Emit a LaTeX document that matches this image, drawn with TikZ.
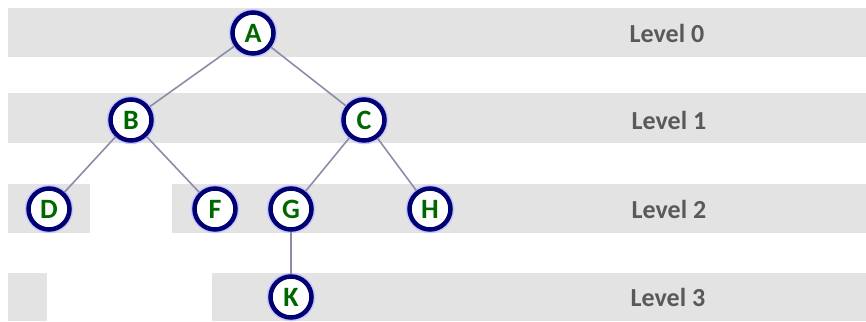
\documentclass[tikz,border=0pt]{standalone}
\usepackage{fontspec}
\setmainfont{Carlito}
\usepackage{tikz}
\usetikzlibrary{positioning}

\begin{document}
\begin{tikzpicture}[x=1pt,y=-1pt]
\colorlet{band}{black!11}
\colorlet{ring edge}{blue!45!black}
\colorlet{ring glow}{blue!22}
\colorlet{letter}{green!40!black}
\colorlet{edge line}{blue!25!black!45}
\tikzset{
     vertex/.style={circle, draw=ring edge, line width=4.5pt, fill=white,
        minimum size=41pt, inner sep=0pt,
        preaction={draw=ring glow, line width=7.5pt},
        font=\fontsize{28}{30}\bfseries, text=letter},
     levellabel/.style={font=\fontsize{26}{28}\bfseries, text=black!65},
     branch/.style={draw=edge line, line width=1.6pt}}

\useasboundingbox (0,0) rectangle (866,321);

% The bands
\fill[band] (8,8) rectangle (866,57);
\fill[band] (8,93) rectangle (866,143);
\fill[band] (8,184) rectangle (90,233);
\fill[band] (172,184) rectangle (866,233);
\fill[band] (8,273) rectangle (47,321);
\fill[band] (212,273) rectangle (866,321);

% The tree
\node (A) [vertex] at (253,33) {A};
\node (B) [vertex] at (131,120) {B};
\node (C) [vertex] at (364,120) {C};
\node (D) [vertex] at (49,209) {D};
\node (F) [vertex] at (215,209) {F};
\node (G) [vertex] at (291,209) {G};
\node (H) [vertex] at (430,209) {H};
\node (K) [vertex] at (291,297) {K};

\draw [branch] (A) -- (B);
\draw [branch] (A) -- (C);
\draw [branch] (B) -- (D);
\draw [branch] (B) -- (F);
\draw [branch] (C) -- (G);
\draw [branch] (C) -- (H);
\draw [branch] (G) -- (K);

% The labels
\node (lev0) [levellabel] at (667,33) {Level 0};
\node (lev1) [levellabel] at (669,120) {Level 1};
\node (lev2) [levellabel] at (669,209) {Level 2};
\node (lev3) [levellabel] at (668,297) {Level 3};
\end{tikzpicture}
\end{document}
